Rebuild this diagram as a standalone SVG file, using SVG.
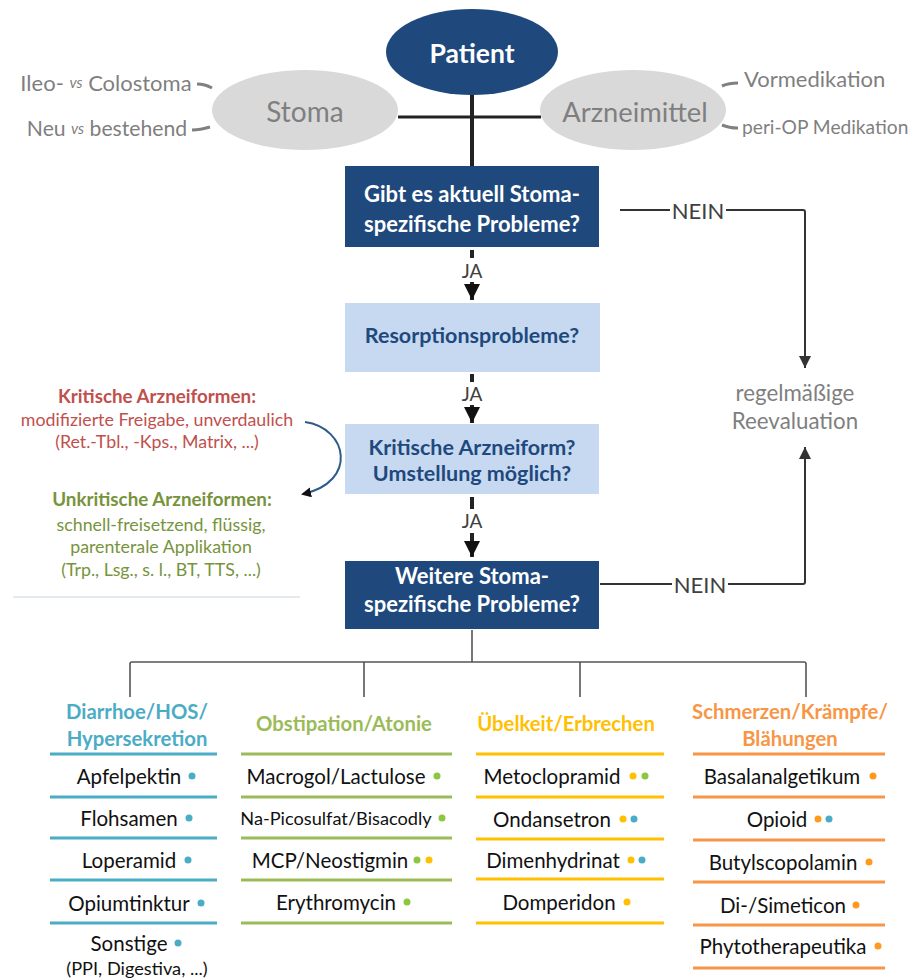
<svg xmlns="http://www.w3.org/2000/svg" width="909" height="979" viewBox="0 0 909 979">
<defs>
<style>
text{font-family:Lato,"Open Sans","Liberation Sans",sans-serif;dominant-baseline:central;text-anchor:middle}
.gray{fill:#7f7f7f}
.boxd{fill:#1f497d}
.boxl{fill:#c6d9f1}
.tw{fill:#ffffff;font-weight:bold;font-size:22px}
.tb{fill:#1f497d;font-weight:bold;font-size:21.5px}
.lbl{fill:#404040;font-size:19px}
.nein{fill:#404040;font-size:22px}
.item{fill:#111111;font-size:20.5px}
.small{fill:#111111;font-size:18.2px}
.h{font-weight:bold;font-size:20.3px}
.c1{stroke:#4bacc6}.c2{stroke:#9bbb59}.c3{stroke:#ffc000}.c4{stroke:#f79646}
.ln{stroke-width:3;fill:none}
.db{fill:#4bacc6}.dg{fill:#8dc63f}.dy{fill:#ffc000}.do{fill:#ff9a1f}
.conn{stroke:#222;fill:none}
.tree{stroke:#555;stroke-width:1.6;fill:none}
</style>
<marker id="ah" viewBox="0 0 10 10" refX="10" refY="5" markerWidth="4" markerHeight="4" orient="auto" markerUnits="strokeWidth"><path d="M0,0L10,5L0,10z" fill="#111"/></marker>
<marker id="ahs" viewBox="0 0 10 10" refX="10" refY="5" markerWidth="6" markerHeight="6" orient="auto" markerUnits="strokeWidth"><path d="M0,0L10,5L0,10z" fill="#333"/></marker>
<marker id="ahc" viewBox="0 0 10 10" refX="8" refY="5" markerWidth="5" markerHeight="5" orient="auto" markerUnits="strokeWidth"><path d="M0,0L10,5L0,10z" fill="#111"/></marker>
</defs>
<rect width="909" height="979" fill="#ffffff"/>

<g id="connectors">
<path class="conn" stroke-width="3" d="M398,117H541"/>
<path class="conn" stroke-width="4" d="M472,95V166"/>
<path d="M197,84q8,0 15,4M192,130q8,0 18,-3M722,86q7,-3 16,-3M722,125q7,3 16,3" stroke="#808080" stroke-width="3" fill="none"/>
<path class="conn" stroke-width="4" d="M472,250V258"/>
<path class="conn" stroke-width="4" d="M472,282V300" marker-end="url(#ah)"/>
<path class="conn" stroke-width="4" d="M472,374V382"/>
<path class="conn" stroke-width="4" d="M472,405V423" marker-end="url(#ah)"/>
<path class="conn" stroke-width="4" d="M472,497V509"/>
<path class="conn" stroke-width="4" d="M472,533V557" marker-end="url(#ah)"/>
<path stroke="#333" stroke-width="2" fill="none" d="M620,210H670M726,210H803Q805,210 805,212V368" marker-end="url(#ahs)"/>
<path stroke="#333" stroke-width="2" fill="none" d="M600,584H672M728,584H803Q805,584 805,582V447" marker-end="url(#ahs)"/>
<path d="M305,422C348,428 358,482 303,494" stroke="#2e5a8c" stroke-width="2" fill="none" marker-end="url(#ahc)"/>
<path class="tree" d="M472,630V662M130,697V664Q130,662 132,662H804Q806,662 806,664V697M364,662V697M580,662V697"/>
<path d="M13,597H300" stroke="#dde3ea" stroke-width="1.5"/>
</g>

<g id="patient"><ellipse cx="472" cy="52" rx="86" ry="43" class="boxd"/><text x="472" y="53" fill="#fff" font-weight="bold" font-size="26.5">Patient</text></g>
<g id="stoma"><ellipse cx="305" cy="110" rx="93" ry="40" fill="#d9d9d9"/><text x="305" y="111" class="gray" font-size="28">Stoma</text></g>
<g id="arzneimittel"><ellipse cx="633" cy="110" rx="93" ry="40" fill="#d9d9d9"/><text x="635" y="111" class="gray" font-size="27.3">Arzneimittel</text></g>
<g id="stoma-labels">
<text x="106" y="82" class="gray" font-size="22">Ileo- <tspan font-style="italic" font-size="15">vs</tspan> Colostoma</text>
<text x="107" y="128" class="gray" font-size="21.2">Neu <tspan font-style="italic" font-size="15">vs</tspan> bestehend</text>
</g>
<g id="arznei-labels">
<text x="744" y="78" class="gray" font-size="22" style="text-anchor:start">Vormedikation</text>
<text x="742" y="126" class="gray" font-size="19.2" style="text-anchor:start">peri-OP Medikation</text>
</g>

<g id="q1"><rect x="345" y="166" width="254" height="81" class="boxd"/><text x="472" y="193" class="tw">Gibt es aktuell Stoma-</text><text x="472" y="223" class="tw">spezifische Probleme?</text></g>
<g id="q2"><rect x="345" y="303" width="255" height="69" class="boxl"/><text x="472" y="335" class="tb">Resorptionsprobleme?</text></g>
<g id="q3"><rect x="345" y="424" width="254" height="70" class="boxl"/><text x="472" y="447" class="tb">Kritische Arzneiform?</text><text x="472" y="473" class="tb">Umstellung möglich?</text></g>
<g id="q4"><rect x="345" y="561" width="254" height="68" class="boxd"/><text x="472" y="575" class="tw">Weitere Stoma-</text><text x="472" y="603" class="tw">spezifische Probleme?</text></g>

<g id="edge-labels">
<text x="472" y="270" class="lbl">JA</text>
<text x="472" y="393" class="lbl">JA</text>
<text x="472" y="520" class="lbl">JA</text>
<text x="698" y="210" class="nein">NEIN</text>
<text x="700" y="584" class="nein">NEIN</text>
</g>

<g id="reevaluation"><text x="795" y="392" class="gray" font-size="22.3">regelmäßige</text><text x="795" y="420" class="gray" font-size="22.3">Reevaluation</text></g>

<g id="kritisch">
<text x="157" y="395" fill="#c0504d" font-weight="bold" font-size="18.8">Kritische Arzneiformen:</text>
<text x="157" y="419" fill="#c0504d" font-size="17.8">modifizierte Freigabe, unverdaulich</text>
<text x="157" y="441" fill="#c0504d" font-size="17.8">(Ret.-Tbl., -Kps., Matrix, ...)</text>
</g>
<g id="unkritisch">
<text x="162" y="498" fill="#77933c" font-weight="bold" font-size="18.8">Unkritische Arzneiformen:</text>
<text x="161" y="524" fill="#77933c" font-size="17.8">schnell-freisetzend, flüssig,</text>
<text x="161" y="546" fill="#77933c" font-size="17.8">parenterale Applikation</text>
<text x="161" y="569" fill="#77933c" font-size="17.8">(Trp., Lsg., s. l., BT, TTS, ...)</text>
</g>

<g id="col-diarrhoe">
<text x="137" y="711" class="h" fill="#4bacc6">Diarrhoe/HOS/</text>
<text x="137" y="738" class="h" fill="#4bacc6">Hypersekretion</text>
<path class="ln c1" d="M50,754H217M50,797H217M50,838H217M50,880H217M50,923H217"/>
<text x="129" y="776" class="item">Apfelpektin</text><circle cx="192" cy="776" r="3.5" class="db"/>
<text x="129" y="818" class="item">Flohsamen</text><circle cx="189" cy="818" r="3.5" class="db"/>
<text x="129" y="860" class="item">Loperamid</text><circle cx="188" cy="860" r="3.5" class="db"/>
<text x="129" y="903" class="item">Opiumtinktur</text><circle cx="201" cy="903" r="3.5" class="db"/>
<text x="129" y="943" class="item">Sonstige</text><circle cx="178" cy="943" r="3.5" class="db"/>
<text x="137" y="968" class="small">(PPI, Digestiva, ...)</text>
</g>

<g id="col-obstipation">
<text x="344" y="723" class="h" fill="#9bbb59">Obstipation/Atonie</text>
<path class="ln c2" d="M241,754H452M241,797H452M241,838H452M241,880H452M241,923H452"/>
<text x="336" y="776" class="item">Macrogol/Lactulose</text><circle cx="437" cy="776" r="3.5" class="dg"/>
<text x="336" y="818" class="small">Na-Picosulfat/Bisacodly</text><circle cx="442" cy="818" r="3.5" class="dg"/>
<text x="330" y="860" class="item">MCP/Neostigmin</text><circle cx="417" cy="860" r="3.5" class="dg"/><circle cx="429" cy="860" r="3.5" class="dy"/>
<text x="336" y="902" class="item">Erythromycin</text><circle cx="407" cy="902" r="3.5" class="dg"/>
</g>

<g id="col-uebelkeit">
<text x="566" y="723" class="h" fill="#ffc000">Übelkeit/Erbrechen</text>
<path class="ln c3" d="M476,754H664M476,797H664M476,839H664M476,879H664M476,923H664"/>
<text x="552" y="776" class="item">Metoclopramid</text><circle cx="633" cy="776" r="3.5" class="dy"/><circle cx="645" cy="776" r="3.5" class="dg"/>
<text x="552" y="819" class="item">Ondansetron</text><circle cx="623" cy="819" r="3.5" class="dy"/><circle cx="634" cy="819" r="3.5" class="db"/>
<text x="553" y="860" class="item">Dimenhydrinat</text><circle cx="631" cy="860" r="3.5" class="dy"/><circle cx="642" cy="860" r="3.5" class="db"/>
<text x="559" y="902" class="item">Domperidon</text><circle cx="627" cy="902" r="3.5" class="dy"/>
</g>

<g id="col-schmerzen">
<text x="790" y="711" class="h" fill="#f79646">Schmerzen/Krämpfe/</text>
<text x="790" y="738" class="h" fill="#f79646">Blähungen</text>
<path class="ln c4" d="M693,754H885M693,797H885M693,840H885M693,882H885M693,925H885M693,968H885"/>
<text x="782" y="776" class="item">Basalanalgetikum</text><circle cx="873" cy="776" r="3.5" class="do"/>
<text x="777" y="819" class="item">Opioid</text><circle cx="818" cy="819" r="3.5" class="do"/><circle cx="829" cy="819" r="3.5" class="db"/>
<text x="783" y="862" class="item">Butylscopolamin</text><circle cx="869" cy="862" r="3.5" class="do"/>
<text x="783" y="905" class="item">Di-/Simeticon</text><circle cx="856" cy="905" r="3.5" class="do"/>
<text x="783" y="946" class="item">Phytotherapeutika</text><circle cx="878" cy="946" r="3.5" class="do"/>
</g>
</svg>
